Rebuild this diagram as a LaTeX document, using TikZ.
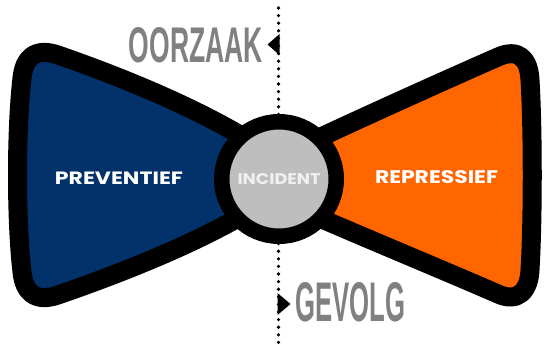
\documentclass[tikz,border=0pt]{standalone}
\usepackage{fontspec}
\usepackage{graphicx}
\setmainfont{Liberation Sans}
\newfontfamily\labelfont{Poppins}
\definecolor{bowblue}{RGB}{3,49,106}
\definecolor{boworange}{RGB}{255,102,0}
\definecolor{knotgray}{RGB}{190,190,190}
\definecolor{captiongray}{RGB}{128,128,128}

\begin{document}
\begin{tikzpicture}[x=1pt,y=-1pt,
    wing/.style={draw=black,line width=19pt,line join=round},
    dotline/.style={line width=3.6pt,line cap=round,dash pattern=on 0pt off 7.6pt},
    lbl/.style={inner sep=0pt,text=white,font=\labelfont\bfseries},
    caption/.style={inner sep=0pt,text=captiongray,font=\bfseries}]
  \useasboundingbox (0,0) rectangle (549,351);
  \coordinate (ctop) at (278.5,8);
  \coordinate (cbot) at (278.5,346);
  \coordinate (cause) at (279.5,44.5);
  \coordinate (effect) at (277.5,304);
  \draw [dotline] (ctop) -- (cbot);
  \fill (cause) ++(0,-10.5) -- ++(-12,10.5) -- ++(12,10.5) -- cycle;
  \fill (effect) ++(0,-11) -- ++(13,11) -- ++(-13,11) -- cycle;
  % left wing
  \filldraw [wing,fill=bowblue] (250,141) .. controls (190,104) and (110,73) .. (58,55)
    .. controls (35,47) and (24,58) .. (22,78)
    .. controls (16,130) and (16,220) .. (22,272)
    .. controls (24,292) and (35,303) .. (58,295)
    .. controls (110,277) and (190,247) .. (250,211) -- cycle;
  % right wing
  \filldraw [wing,fill=boworange] (308,143) .. controls (370,114) and (450,78) .. (498,57)
    .. controls (518,48) and (529,58) .. (530,80)
    .. controls (533,130) and (533,220) .. (530,270)
    .. controls (529,291) and (518,303) .. (498,294)
    .. controls (450,273) and (370,240) .. (308,213) -- cycle;
  % knot
  \node [circle,draw=black,fill=knotgray,line width=15.5pt,minimum size=114.5pt,inner sep=0pt,
    text=white!94!black,font=\labelfont\bfseries] (knot) at (279,179)
    {\resizebox{83pt}{11pt}{INCIDENT}};
  \node [lbl] (prev) at (119,178) {\resizebox{128pt}{12.5pt}{PREVENTIEF}};
  \node [lbl] (rep) at (436.5,177) {\resizebox{123pt}{13pt}{REPRESSIEF}};
  \node [caption,anchor=east] (cause label) at (263,45.5) {\resizebox{134pt}{35pt}{OORZAAK}};
  \node [caption,anchor=west] (effect label) at (295,302.5) {\resizebox{110pt}{39pt}{GEVOLG}};
\end{tikzpicture}
\end{document}
